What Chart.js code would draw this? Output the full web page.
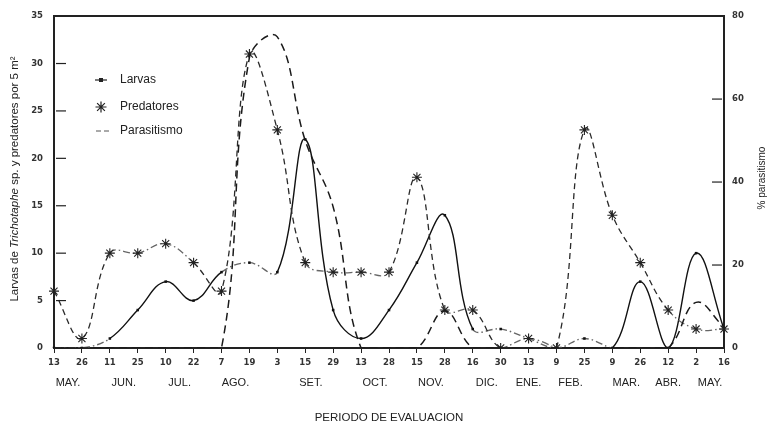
<!DOCTYPE html>
<html lang="es">
<head>
<meta charset="utf-8">
<title>Larvas, predatores y parasitismo</title>
<script src="https://cdn.jsdelivr.net/npm/chart.js@4.4.1/dist/chart.umd.min.js"></script>
<style>
  html, body { margin: 0; padding: 0; background: #fff; }
  #wrap { position: relative; width: 768px; height: 434px; }
</style>
</head>
<body>
<div id="wrap"><canvas id="chart"></canvas></div>
<script>
// fechas de muestreo (dia del mes)
const dias = ['13','26','11','25','10','22','7','19','3','15','29','13','28','15','28','16','30','13','9','25','9','26','12','2','16'];
// meses y la fecha (indice) bajo la que va cada uno
const meses = ['MAY.','JUN.','JUL.','AGO.','SET.','OCT.','NOV.','DIC.','ENE.','FEB.','MAR.','ABR.','MAY.'];
const mesEn = [0.5, 2.5, 4.5, 6.5, 9.2, 11.5, 13.5, 15.5, 17, 18.5, 20.5, 22, 23.5];

// por 5 m2
const larvas      = [0, 0, 1, 4, 7, 5, 8, 9, 8, 22, 4, 1, 4, 9, 14, 2, 2, 1, 0, 1, 0, 7, 0, 10, 2];
const predatores  = [6, 1, 10, 10, 11, 9, 6, 31, 23, 9, 8, 8, 8, 18, 4, 4, 0, 1, 0, 23, 14, 9, 4, 2, 2];
// % parasitismo (eje derecho)
const parasitismo = [0, 0, 0, 0, 0, 0, 0, 70, 75, 50, 34, 0, 0, 0, 9, 0, 0, 0, 0, 0, 0, 0, 0, 11, 5];

const INK = '#222';
const numFont = { family: 'DejaVu Sans', size: 8.5, weight: 'bold' };

// tramos casi planos salen punto-raya en el original
const flatDash = (lim) => ctx =>
  Math.abs(ctx.p1.parsed.y - ctx.p0.parsed.y) <= lim ? [7, 3, 1.5, 3] : undefined;
const flatColor = (lim, base) => ctx =>
  Math.abs(ctx.p1.parsed.y - ctx.p0.parsed.y) <= lim ? '#666' : base;

const extras = {
  id: 'extras',
  afterDraw(chart) {
    const { ctx, chartArea: a, scales } = chart;
    const x = scales.x, y = scales.y, y2 = scales.y2;
    ctx.save();

    // marco superior
    ctx.strokeStyle = INK;
    ctx.lineWidth = 2;
    ctx.beginPath();
    ctx.moveTo(a.left, a.top);
    ctx.lineTo(a.right, a.top);
    ctx.stroke();

    // marcas hacia dentro en los ejes verticales
    ctx.lineWidth = 1.2;
    y.ticks.forEach(t => {
      const py = y.getPixelForValue(t.value);
      ctx.beginPath(); ctx.moveTo(a.left + 2, py); ctx.lineTo(a.left + 12, py); ctx.stroke();
    });
    y2.ticks.forEach(t => {
      const py = y2.getPixelForValue(t.value);
      ctx.beginPath(); ctx.moveTo(a.right - 12, py); ctx.lineTo(a.right - 2, py); ctx.stroke();
    });

    // meses
    ctx.fillStyle = INK;
    ctx.font = '11px "Liberation Sans", Arial, sans-serif';
    ctx.textAlign = 'center';
    ctx.textBaseline = 'middle';
    meses.forEach((m, i) => ctx.fillText(m, x.getPixelForValue(mesEn[i]), 383));

    // titulo eje x
    ctx.font = '11.5px "Liberation Sans", Arial, sans-serif';
    ctx.fillText('PERIODO DE EVALUACION', (a.left + a.right) / 2, 418);

    // titulo eje y izquierdo (con nombre en cursiva)
    const parts = [
      ['Larvas de ', '11.5px "Liberation Sans", Arial, sans-serif'],
      ['Trichotaphe', 'italic 11.5px "Liberation Sans", Arial, sans-serif'],
      [' sp. y predatores por 5 m\u00B2', '11.5px "Liberation Sans", Arial, sans-serif']
    ];
    let total = 0;
    parts.forEach(p => { ctx.font = p[1]; total += ctx.measureText(p[0]).width; });
    ctx.save();
    ctx.translate(15, 179);
    ctx.rotate(-Math.PI / 2);
    ctx.textAlign = 'left';
    let cx = -total / 2;
    parts.forEach(p => { ctx.font = p[1]; ctx.fillText(p[0], cx, 0); cx += ctx.measureText(p[0]).width; });
    ctx.restore();

    // titulo eje y derecho
    ctx.save();
    ctx.translate(762, 178);
    ctx.rotate(-Math.PI / 2);
    ctx.font = '10px "Liberation Sans", Arial, sans-serif';
    ctx.textAlign = 'center';
    ctx.fillText('% parasitismo', 0, 0);
    ctx.restore();

    // leyenda
    ctx.font = '12px "Liberation Sans", Arial, sans-serif';
    ctx.textAlign = 'left';
    ctx.strokeStyle = INK;
    ctx.lineWidth = 1.2;
    ctx.beginPath(); ctx.moveTo(95, 80); ctx.lineTo(107, 80); ctx.stroke();
    ctx.fillRect(99, 78, 4, 4);
    ctx.fillText('Larvas', 120, 80);

    Chart.helpers.drawPoint(ctx, { pointStyle: 'star', radius: 5.5, borderWidth: 1.1, rotation: 0 }, 101, 107);
    ctx.fillText('Predatores', 120, 107);

    ctx.strokeStyle = '#555';
    ctx.lineWidth = 1;
    ctx.beginPath(); ctx.moveTo(96, 131); ctx.lineTo(101, 131); ctx.moveTo(104, 131); ctx.lineTo(109, 131); ctx.stroke();
    ctx.fillText('Parasitismo', 120, 131);

    ctx.restore();
  }
};

new Chart(document.getElementById('chart'), {
  type: 'line',
  data: {
    labels: dias,
    datasets: [
      {
        label: 'Parasitismo',
        data: parasitismo,
        yAxisID: 'y2',
        borderColor: '#1a1a1a',
        borderWidth: 1.5,
        borderDash: [8, 5],
        pointRadius: 0,
        tension: 0.4,
        fill: false
      },
      {
        label: 'Predatores',
        data: predatores,
        yAxisID: 'y',
        borderColor: '#2a2a2a',
        borderWidth: 1.3,
        borderDash: [6, 4],
        pointStyle: 'star',
        pointRadius: 5,
        pointBorderWidth: 1.1,
        pointBorderColor: '#222',
        pointBackgroundColor: '#222',
        tension: 0.4,
        fill: false,
        segment: { borderDash: flatDash(2), borderColor: flatColor(2, '#2a2a2a') }
      },
      {
        label: 'Larvas',
        data: larvas,
        yAxisID: 'y',
        borderColor: '#111',
        borderWidth: 1.4,
        pointStyle: 'rect',
        pointRadius: 1.8,
        pointBorderWidth: 0,
        pointBackgroundColor: '#111',
        tension: 0.4,
        fill: false,
        segment: { borderDash: flatDash(1), borderColor: flatColor(1, '#111') }
      }
    ]
  },
  options: {
    responsive: true,
    maintainAspectRatio: false,
    animation: false,
    layout: { padding: { top: 13, left: 0, right: 0, bottom: 0 } },
    plugins: {
      legend: { display: false },
      tooltip: { enabled: false }
    },
    scales: {
      x: {
        type: 'category',
        offset: false,
        grid: { display: true, drawOnChartArea: false, drawTicks: true, tickLength: 5, color: INK, lineWidth: 1 },
        border: { display: true, color: INK, width: 2 },
        ticks: { autoSkip: false, maxRotation: 0, padding: 5, color: '#333', font: numFont },
        afterFit: s => { s.height = 86; }
      },
      y: {
        position: 'left',
        min: 0,
        max: 35,
        grid: { display: false, drawTicks: false },
        border: { display: true, color: INK, width: 2 },
        ticks: { stepSize: 5, padding: 11, color: '#333', font: numFont },
        afterFit: s => { s.width = 54; }
      },
      y2: {
        position: 'right',
        min: 0,
        max: 80,
        grid: { display: false, drawTicks: false },
        border: { display: true, color: INK, width: 2 },
        ticks: { stepSize: 20, padding: 8, color: '#333', font: numFont },
        afterFit: s => { s.width = 44; }
      }
    }
  },
  plugins: [extras]
});
</script>
</body>
</html>
